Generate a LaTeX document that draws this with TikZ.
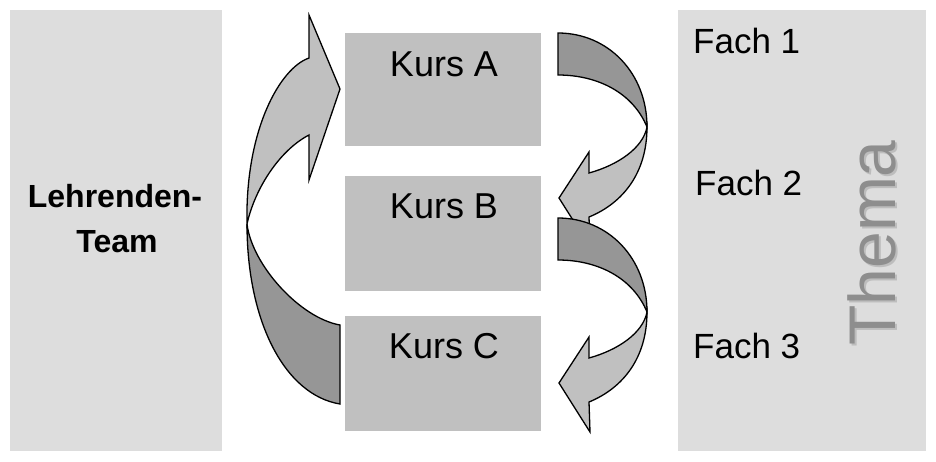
\documentclass[tikz,border=0pt]{standalone}
\usepackage{fontspec}
\setmainfont{Liberation Sans}
\begin{document}
\begin{tikzpicture}[x=1pt,y=-1pt,
  panel/.style={fill=panelgray,draw=none},
  kursbox/.style={fill=boxgray,draw=none},
  ribbonlight/.style={fill=boxgray,draw=black,line width=1.3pt,line join=miter},
  ribbondark/.style={fill=darkgray!80!gray,draw=black,line width=1.3pt,line join=miter},
  kurslabel/.style={anchor=base,inner sep=0pt,font=\fontsize{36}{43}\selectfont},
  fachlabel/.style={anchor=base west,inner sep=0pt,font=\fontsize{35}{42}\selectfont},
  teamlabel/.style={anchor=base,inner sep=0pt,font=\fontsize{32}{38}\selectfont\bfseries},
  pics/downarrow/.style={code={
    % back side of the ribbon (tail)
    \path[ribbondark] (0,0) .. controls (50,0) and (89,40) .. (89,94)
      .. controls (75,60) and (40,42) .. (0,42) -- cycle;
    % front side with the arrow head
    \path[ribbonlight] (89,94) .. controls (89,140) and (65,170) .. (31,184)
      -- (32,214) -- (1,165) -- (31,119) -- (31,140)
      .. controls (60,132) and (85,115) .. (89,94) -- cycle;
  }}
]
\definecolor{panelgray}{HTML}{DDDDDD}
\definecolor{boxgray}{HTML}{C0C0C0}
\definecolor{darkgray}{HTML}{9C9C9C}
\definecolor{themagray}{HTML}{8E8E8E}
\definecolor{themashadow}{HTML}{BDBDBD}

\useasboundingbox (0,0) rectangle (936,461);
\fill[white] (0,0) rectangle (936,461);

% side panels
\path[panel] (10,10) rectangle (222,451);
\path[panel] (678,10) rectangle (926,451);

% course boxes
\path[kursbox] (345,33) rectangle (541,146);
\path[kursbox] (345,176) rectangle (541,291);
\path[kursbox] (345,316) rectangle (541,431);

% curved arrow on the left, pointing up to Kurs A
\path[ribbondark] (247,224) .. controls (247,322) and (285,395) .. (340,404)
  -- (340,325) .. controls (300,318) and (252,265) .. (247,224) -- cycle;
\path[ribbonlight] (309,58) -- (309,15) -- (340,89) -- (309,180) -- (309,135)
  .. controls (280,150) and (255,188) .. (247,224)
  .. controls (245,130) and (280,68) .. (309,58) -- cycle;

% curved arrows on the right, from A to B and from B to C
\pic at (558,33) {downarrow};
\pic at (558,218) {downarrow};

% labels
\node[teamlabel] (lehr) at (115,207) {Lehrenden-};
\node[teamlabel] (team) at (117,252) {Team};

\node[kurslabel] (ka) at (444,76) {Kurs A};
\node[kurslabel] (kb) at (444,218) {Kurs B};
\node[kurslabel] (kc) at (444,358) {Kurs C};

\node[fachlabel] (f1) at (693,53) {Fach 1};
\node[fachlabel] (f2) at (695,195) {Fach 2};
\node[fachlabel] (f3) at (693,358) {Fach 3};

\node[anchor=base,inner sep=0pt,rotate=90,text=themashadow,
  font=\fontsize{66}{70}\selectfont] (themas) at (897,245) {Thema};
\node[anchor=base,inner sep=0pt,rotate=90,text=themagray,
  font=\fontsize{66}{70}\selectfont] (thema) at (895,243) {Thema};
\end{tikzpicture}
\end{document}
